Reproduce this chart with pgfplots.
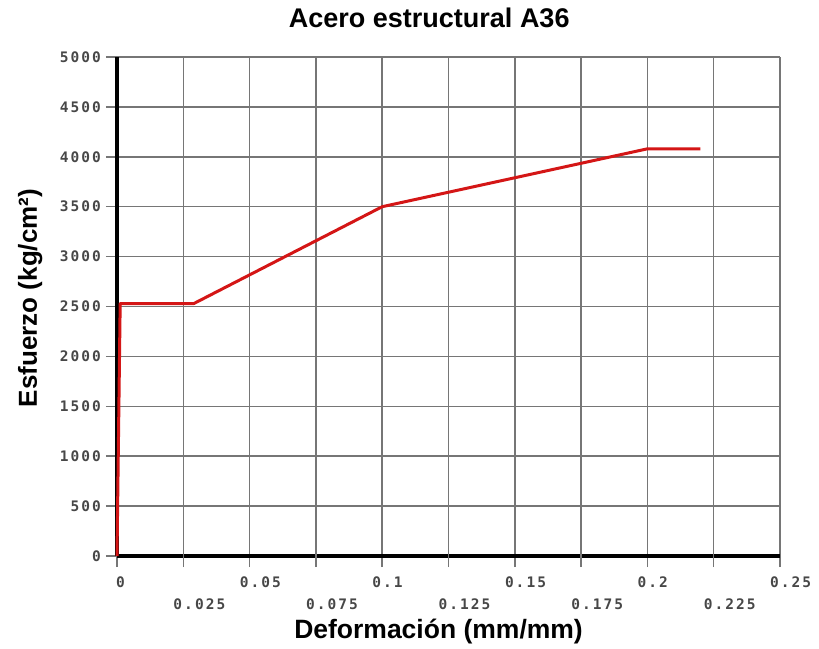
\documentclass[border=0pt]{standalone}
\usepackage{pgfplots}
\pgfplotsset{compat=1.18}
\usepackage{fontspec}
\setmainfont{Liberation Sans}
\newfontfamily\tickfont[LetterSpace=14]{DejaVu Sans Mono}

\definecolor{curve}{RGB}{212,22,22}
\definecolor{gridgray}{RGB}{118,118,118}

% Stress-strain points of A36 structural steel (strain mm/mm, stress kg/cm^2)
\pgfplotstableread{
strain  stress
0       0
0.0012  2530
0.029   2530
0.100   3500
0.200   4080
0.220   4080
}\acero

\begin{document}
\begin{tikzpicture}
\begin{axis}[
  scale only axis,
  width=663pt, height=499pt,
  xmin=0, xmax=0.25, ymin=0, ymax=5000,
  axis x line*=bottom, axis y line*=left,
  axis line style={line width=3.5pt, black, -},
  grid=major,
  grid style={gridgray, line width=1.5pt},
  tick align=outside,
  major tick length=11pt,
  tick style={gridgray, line width=1.5pt},
  xtick={0,0.05,0.1,0.15,0.2,0.25},
  xticklabels={\hspace*{9pt}0,0.05,0.1,0.15,0.2,0.25},
  extra x ticks={0.025,0.075,0.125,0.175,0.225},
  extra x tick labels={0.025,0.075,0.125,0.175,0.225},
  extra x tick style={grid=major, xticklabel style={yshift=-22pt}},
  ytick={0,500,1000,1500,2000,2500,3000,3500,4000,4500,5000},
  yticklabels={0,500,1000,1500,2000,2500,3000,3500,4000,4500,5000},
  xticklabel style={font=\tickfont\bfseries\fontsize{14.5}{15}\selectfont, text=black!72,
    anchor=north west, inner sep=0pt, xshift=-10pt, yshift=-10pt},
  yticklabel style={font=\tickfont\bfseries\fontsize{14.5}{15}\selectfont, text=black!72,
    anchor=east, inner sep=0pt, xshift=-5pt},
  title={Acero estructural A36},
  title style={font=\bfseries\fontsize{27}{30}\selectfont,
    at={(axis description cs:0.471,1.0481)}, anchor=base},
  xlabel={Deformación (mm/mm)},
  xlabel style={font=\bfseries\fontsize{26.5}{30}\selectfont,
    at={(axis description cs:0.485,-0.1663)}, anchor=base},
  ylabel={Esfuerzo (kg/cm²)},
  ylabel style={font=\bfseries\fontsize{26}{30}\selectfont,
    at={(axis description cs:-0.1207,0.517)}, anchor=base, rotate=0},
  clip=false,
]
\addplot[curve, line width=3pt, line join=round] table[x=strain, y=stress] {\acero};
\end{axis}
\path (current axis.south west) ++(-117pt,-92pt) rectangle ++(819pt,648pt);
\end{tikzpicture}
\end{document}
